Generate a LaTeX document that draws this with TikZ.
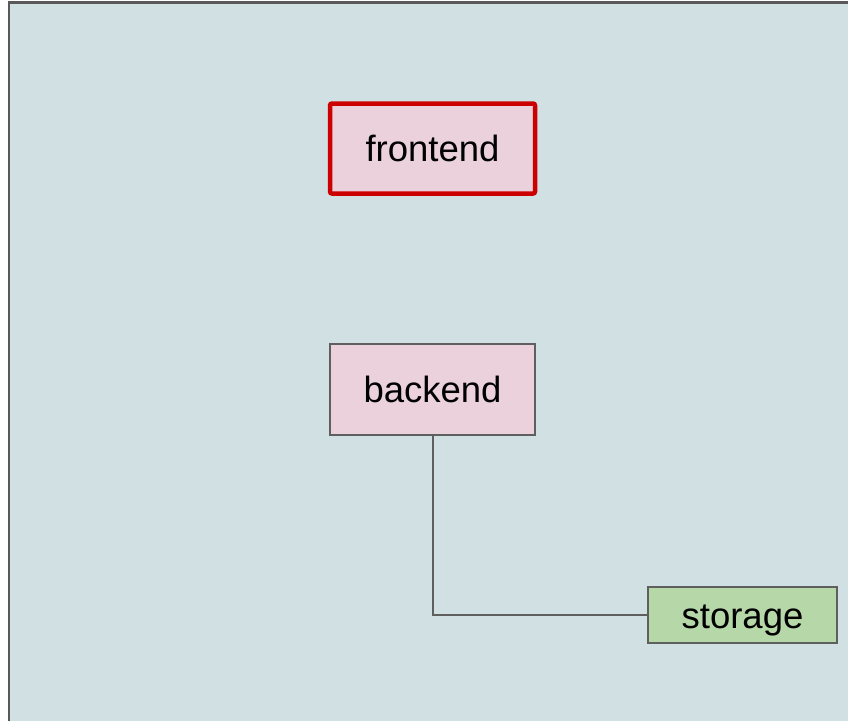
\documentclass[tikz,border=0pt]{standalone}
\usepackage{fontspec}
\setmainfont{Liberation Sans}
\definecolor{bgfill}{HTML}{D0E0E3}
\definecolor{frame}{HTML}{595959}
\definecolor{pinkfill}{HTML}{EAD1DC}
\definecolor{greenfill}{HTML}{B6D7A8}
\definecolor{redline}{HTML}{CC0000}
\definecolor{greyline}{HTML}{5F5F5F}
\tikzset{
  box/.style={draw=greyline, line width=1.5pt, fill=pinkfill, inner sep=0pt,
    text height=26.5pt, text depth=0.3pt,
    font=\fontsize{36.5pt}{40pt}\selectfont, text=black},
  hotbox/.style={box, draw=redline, line width=4.5pt, rounded corners=2pt},
  storebox/.style={box, fill=greenfill},
  link/.style={draw=greyline, line width=2pt}
}
\begin{document}
\begin{tikzpicture}[x=1pt,y=1pt]
\useasboundingbox (0,0) rectangle (848,-720);
\clip (0,0) rectangle (848,-720);
\draw[draw=frame, fill=bgfill, line width=2.5pt] (9,-2.5) rectangle (870,-740);
\node[hotbox, minimum width=205pt, minimum height=90pt] (frontend) at (432.5,-148.5) {frontend};
\node[box, minimum width=205pt, minimum height=91pt] (backend) at (432.5,-389.5) {backend};
\node[storebox, minimum width=189pt, minimum height=56pt] (storage) at (742.5,-615) {storage};
\draw[link] (backend.south) |- (storage.west);
\end{tikzpicture}
\end{document}
